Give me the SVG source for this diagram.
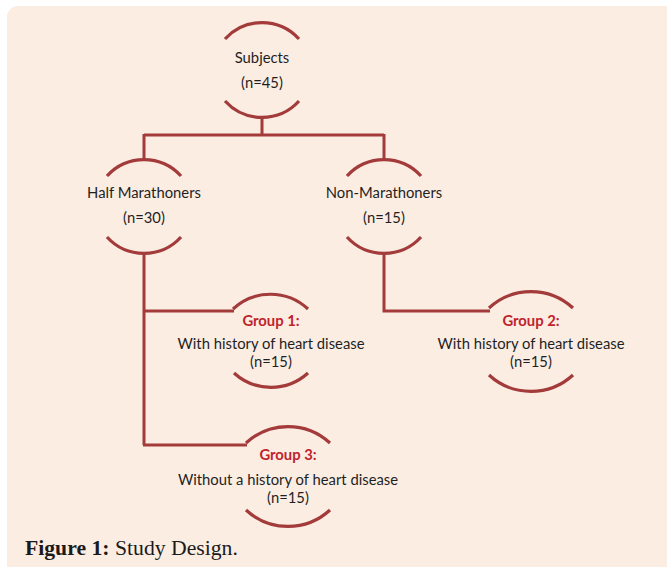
<svg xmlns="http://www.w3.org/2000/svg" width="667" height="567" viewBox="0 0 667 567">
<style>
.arc{fill:none;stroke:#A33B3B;stroke-width:3.2;stroke-linecap:butt}
.con{fill:none;stroke:#A33B3B;stroke-width:3}
.t{font-family:Lato,"Liberation Sans",sans-serif;font-size:14.8px;fill:#1f1f1f;text-anchor:middle}
.g{font-family:Lato,"Liberation Sans",sans-serif;font-size:14.8px;font-weight:bold;fill:#C0232C;text-anchor:middle}
.cap{font-family:"Liberation Serif",serif;font-size:21.7px;fill:#1a1a1a}
</style>
<rect x="0" y="0" width="667" height="567" fill="#ffffff"/>
<rect x="7" y="6" width="680" height="600" rx="11" fill="#FCEDE3"/>
<g id="connectors">
<path class="con" d="M262 118 V135 M144 135 H384 M144 134 V160 M384 134 V161"/>
<path class="con" d="M144 254 V445 M143 311 H234 M143 445 H247"/>
<path class="con" d="M384 254 V311 H490"/>
</g>
<g id="subjects">
<path class="arc" d="M225 39 A50 50 0 0 1 299 39"/>
<path class="arc" d="M225 101 A50 50 0 0 0 299 101"/>
<text class="t" x="262" y="63">Subjects</text>
<text class="t" x="262" y="88">(n=45)</text>
</g>
<g id="half">
<path class="arc" d="M107 176 A50 50 0 0 1 181 176"/>
<path class="arc" d="M107 237 A50 50 0 0 0 181 237"/>
<text class="t" x="144" y="198">Half Marathoners</text>
<text class="t" x="144" y="223">(n=30)</text>
</g>
<g id="non">
<path class="arc" d="M347 176 A50 50 0 0 1 421 176"/>
<path class="arc" d="M347 237 A50 50 0 0 0 421 237"/>
<text class="t" x="384" y="198">Non-Marathoners</text>
<text class="t" x="384" y="223">(n=15)</text>
</g>
<g id="group1">
<path class="arc" d="M233 309 A55 55 0 0 1 308 309"/>
<path class="arc" d="M234 373 A55 55 0 0 0 308 373"/>
<text class="g" x="271" y="326">Group 1:</text>
<text class="t" x="271" y="349">With history of heart disease</text>
<text class="t" x="271" y="367">(n=15)</text>
</g>
<g id="group2">
<path class="arc" d="M489 308 A62 62 0 0 1 573 308"/>
<path class="arc" d="M489 375 A62 62 0 0 0 573 375"/>
<text class="g" x="531" y="326">Group 2:</text>
<text class="t" x="531" y="349">With history of heart disease</text>
<text class="t" x="531" y="367">(n=15)</text>
</g>
<g id="group3">
<path class="arc" d="M246 443 A62 62 0 0 1 330 443"/>
<path class="arc" d="M246 510 A62 62 0 0 0 330 510"/>
<text class="g" x="288" y="460">Group 3:</text>
<text class="t" x="288" y="485">Without a history of heart disease</text>
<text class="t" x="288" y="503">(n=15)</text>
</g>
<text class="cap" x="25" y="555"><tspan font-weight="bold">Figure 1:</tspan> Study Design.</text>
</svg>
